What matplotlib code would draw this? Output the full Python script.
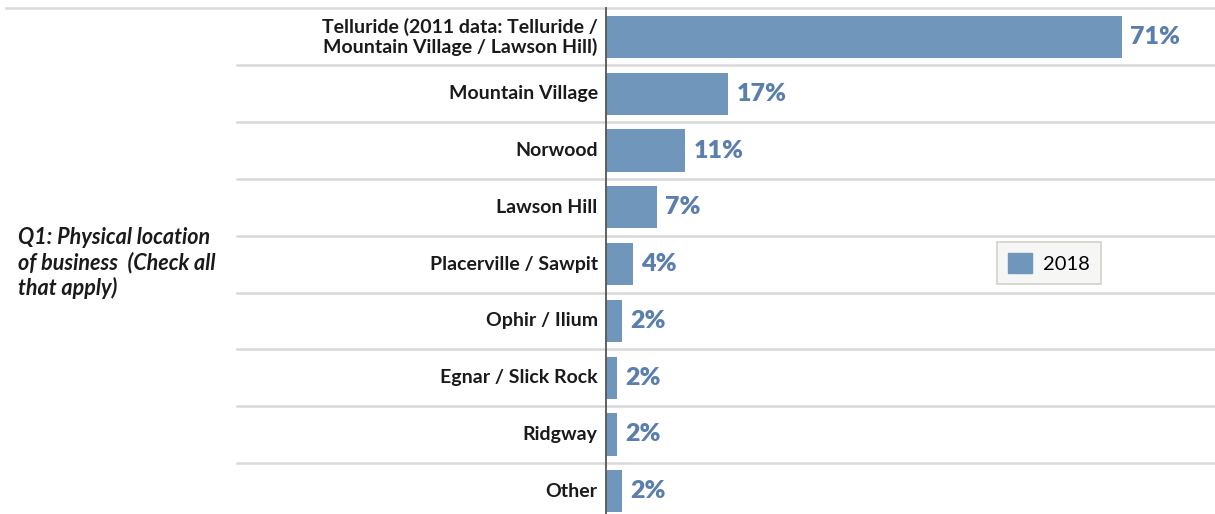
import matplotlib
matplotlib.use("Agg")
import matplotlib.pyplot as plt
from matplotlib.patches import Patch

# Survey data: share of businesses by location (percent)
categories = [
    "Telluride (2011 data: Telluride /\nMountain Village / Lawson Hill)",
    "Mountain Village",
    "Norwood",
    "Lawson Hill",
    "Placerville / Sawpit",
    "Ophir / Ilium",
    "Egnar / Slick Rock",
    "Ridgway",
    "Other",
]
values_2018 = [70.9, 16.8, 10.9, 7.0, 3.7, 2.2, 1.5, 1.5, 2.2]
series_name = "2018"
question = "Q1: Physical location\nof business  (Check all\nthat apply)"

W, H = 1215, 514
fig = plt.figure(figsize=(W / 100, H / 100), dpi=100)
fig.patch.set_facecolor("white")

left_px, top_px, row_px = 606, 8.5, 56.8
ax = fig.add_axes([left_px / W, 0, (W - left_px) / W, (H - top_px) / H])
px_per_unit = 7.28
ax.set_xlim(0, (W - left_px) / px_per_unit)
ax.set_ylim(-0.5 + (H - top_px) / row_px, -0.5)

bar_color = "#7196bb"
label_color = "#5a7fae"
ys = list(range(len(categories)))
ax.barh(ys, values_2018, height=0.74, color=bar_color, zorder=2)

for y, v in zip(ys, values_2018):
    ax.annotate(f"{v:.0f}%", (v, y), xytext=(6, 0), textcoords="offset points",
                ha="left", va="center", fontsize=18, fontweight="heavy",
                color=label_color, family="Lato")

# Category labels right-aligned left of the axis
for y, c in zip(ys, categories):
    ax.annotate(c, (0, y), xytext=(-6, 0), textcoords="offset points",
                ha="right", va="center", fontsize=14, fontweight="bold",
                color="#1a1a1a", family="Lato", linespacing=1.15)

# Row separators
ax_w_px = W - left_px
for i in range(len(categories)):
    yline = i - 0.5
    xmin = (6 - left_px) / ax_w_px if i == 0 else (237 - left_px) / ax_w_px
    ax.axhline(yline, xmin=xmin, xmax=1, color="#d9d9d9", lw=1.8,
               clip_on=False, zorder=1)

for s in ["top", "right", "bottom"]:
    ax.spines[s].set_visible(False)
ax.spines["left"].set_color("#555555")
ax.spines["left"].set_linewidth(1.3)
ax.set_xticks([])
ax.set_yticks([])

# Row-group header
fig.text(18 / W, 1 - 263 / H, question, ha="left", va="center",
         fontsize=15.5, fontweight="bold", fontstyle="italic",
         family="Lato", color="#1a1a1a", linespacing=1.2)

leg = fig.legend(handles=[Patch(facecolor=bar_color, edgecolor=bar_color, label=series_name)],
                 loc="center", bbox_to_anchor=(1049 / W, 1 - 263 / H),
                 frameon=True, fancybox=False, facecolor="#f4f4f4",
                 edgecolor="#c9c6bc", handlelength=1.15,
                 handleheight=1.15, borderpad=0.55, handletextpad=0.55,
                 borderaxespad=0.0,
                 prop={"family": "Lato", "size": 14.5})
leg.get_frame().set_linewidth(1.2)

fig.savefig("out.png", dpi=100, facecolor="white")
